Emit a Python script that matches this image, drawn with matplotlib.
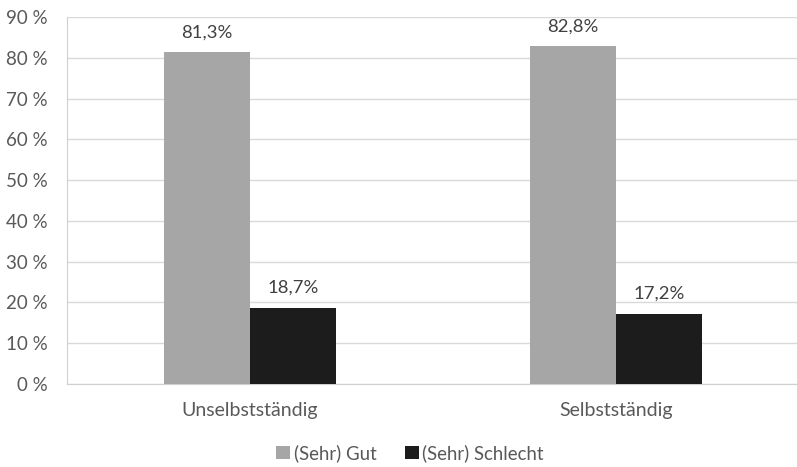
import matplotlib
matplotlib.use("Agg")
import matplotlib.pyplot as plt
import numpy as np

categories = ["Unselbstständig", "Selbstständig"]
series_names = ["(Sehr) Gut", "(Sehr) Schlecht"]
gut = [81.3, 82.8]
schlecht = [18.7, 17.2]
y_ticks = [0, 10, 20, 30, 40, 50, 60, 70, 80, 90]

plt.rcParams["font.family"] = ["Lato", "DejaVu Sans"]
text_color = "#595959"

fig = plt.figure(figsize=(7.97, 4.67), dpi=100)
ax = fig.add_axes([67 / 797, 83 / 467, 732 / 797, 367 / 467])

x = np.arange(len(categories))
w = 0.235
colors = ["#a6a6a6", "#1c1c1c"]
for i, (vals, name) in enumerate(zip([gut, schlecht], series_names)):
    pos = x + (i - 0.5) * w
    ax.bar(pos, vals, width=w, color=colors[i], label=name, zorder=3)
    for xp, v in zip(pos, vals):
        ax.text(xp, v + 3.0, f"{v:.1f}%".replace(".", ","), ha="center", va="bottom",
                fontsize=13.3, color="#404040")

ax.set_xlim(-0.5, 1.5)
ax.set_ylim(0, 90)
ax.set_yticks(y_ticks)
ax.set_yticklabels([f"{t} %" for t in y_ticks])
ax.set_xticks(x)
ax.set_xticklabels(categories)
ax.tick_params(axis="both", length=0, labelcolor=text_color)
ax.tick_params(axis="x", pad=13, labelsize=14)
ax.tick_params(axis="y", pad=14, labelsize=13.5)
ax.yaxis.grid(True, color="#d9d9d9", linewidth=1, zorder=0)
for s in ["top", "right"]:
    ax.spines[s].set_visible(False)
ax.spines["left"].set_color("#d0d0d0")
ax.spines["bottom"].set_color("#d0d0d0")

fig.legend(loc="center", bbox_to_anchor=(410 / 797, 1 - 453 / 467),
           ncol=2, frameon=False, fontsize=13.4, labelcolor=text_color,
           handlelength=0.75, handleheight=0.75, handletextpad=0.2, columnspacing=1.5)

fig.savefig("out.png", dpi=100)
